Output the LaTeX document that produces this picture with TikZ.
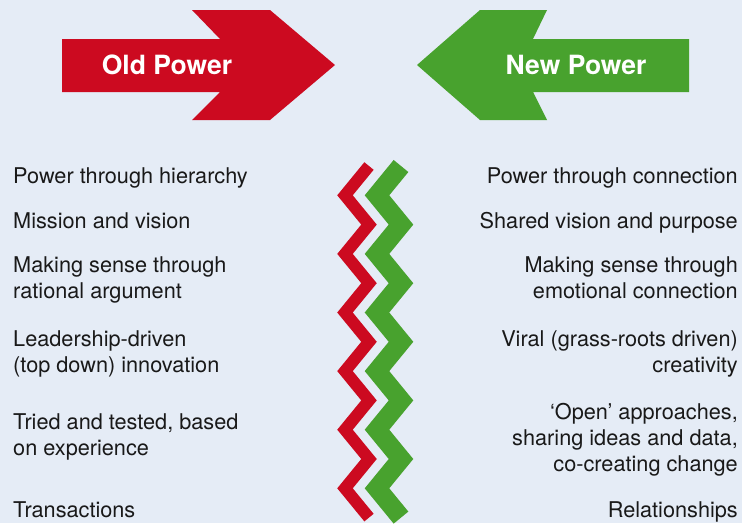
\documentclass[tikz,border=0pt]{standalone}
\usepackage{fontspec}
\setmainfont{TeX Gyre Heros}
\usetikzlibrary{positioning}
\definecolor{oldred}{RGB}{204,10,32}
\definecolor{newgreen}{RGB}{72,162,46}
\definecolor{bgblue}{RGB}{229,236,246}
\definecolor{textdark}{RGB}{25,25,25}
\tikzset{item left/.style={anchor=base west,align=left,inner sep=0pt,text=textdark,font=\fontsize{21.7}{26}\selectfont},
         item right/.style={anchor=base east,align=right,inner sep=0pt,text=textdark,font=\fontsize{21.7}{26}\selectfont},
         arrow label/.style={text=white,inner sep=0pt,font=\bfseries\fontsize{26.5}{30}\selectfont},
         old zig/.style={draw=oldred,line width=12pt},
         new zig/.style={draw=newgreen,line width=19pt}
}

\begin{document}
\begin{tikzpicture}[x=1pt,y=-1pt]
\useasboundingbox (0,0) rectangle (742,523);
\fill[bgblue] (0,0) rectangle (742,523);

% arrows
\fill[oldred] (62,39) -- (220,39) -- (192,10) -- (270,10) -- (335,65)
    -- (270,120) -- (192,120) -- (220,92) -- (62,92) -- cycle;
\node[arrow label] (old) at (167,65) {Old Power};
\fill[newgreen] (689,39) -- (533,39) -- (547,10) -- (480,10) -- (417,65)
    -- (480,120) -- (547,120) -- (533,92) -- (689,92) -- cycle;
\node[arrow label] (new) at (576,65) {New Power};

% zigzags
\draw[old zig] (369,166) \foreach \k in {1,...,12} {-- ({357+12*cos(180*\k)},{166+29.3*\k})};
\draw[new zig] (401,166) \foreach \k in {1,...,12} {-- ({389+12*cos(180*\k)},{166+29.3*\k})};

% old power (base = last line)
\node[item left] (l1) at (13,183) {Power through hierarchy};
\node[item left] (l2) at (13,228) {Mission and vision};
\node[item left] (l3) at (13,298) {Making sense through\\rational argument};
\node[item left] (l4) at (13,372) {Leadership-driven\\(top down) innovation};
\node[item left] (l5) at (13,455) {Tried and tested, based\\on experience};
\node[item left] (l6) at (13,517) {Transactions};

% new power
\node[item right] (r1) at (738,183) {Power through connection};
\node[item right] (r2) at (738,228) {Shared vision and purpose};
\node[item right] (r3) at (738,298) {Making sense through\\emotional connection};
\node[item right] (r4) at (738,372) {Viral (grass-roots driven)\\creativity};
\node[item right] (r5) at (738,471) {‘Open’ approaches,\\sharing ideas and data,\\co-creating change};
\node[item right] (r6) at (738,517) {Relationships};
\end{tikzpicture}
\end{document}
